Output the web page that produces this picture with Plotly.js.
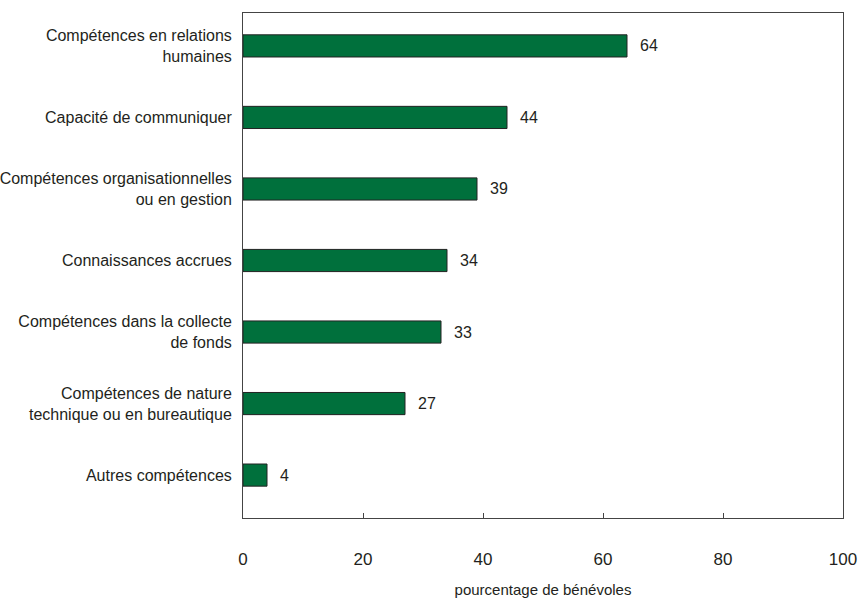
<!DOCTYPE html>
<html>
<head>
<meta charset="utf-8">
<script src="https://cdn.plot.ly/plotly-3.0.1.min.js"></script>
<style>
html,body{margin:0;padding:0;background:#fff;}
#chart{width:858px;height:598px;}
</style>
</head>
<body>
<div id="chart"></div>
<script>
const categories = [
  "Compétences en relations<br>humaines",
  "Capacité de communiquer",
  "Compétences organisationnelles<br>ou en gestion",
  "Connaissances accrues",
  "Compétences dans la collecte<br>de fonds",
  "Compétences de nature<br>technique ou en bureautique",
  "Autres compétences"
];
const values = [64, 44, 39, 34, 33, 27, 4];
const xTicks = [0, 20, 40, 60, 80, 100];
const xTitle = "pourcentage de bénévoles";

const FONT = "'Liberation Sans', Arial, sans-serif";

const trace = {
  type: 'bar',
  orientation: 'h',
  x: values,
  y: categories,
  width: 0.31,
  marker: {color: '#00703c', line: {color: '#222', width: 1}},
  hoverinfo: 'none'
};

const annotations = values.map((v, i) => ({
  x: v, y: categories[i], xref: 'x', yref: 'y',
  text: String(v), showarrow: false, xanchor: 'left', xshift: 11,
  font: {family: FONT, size: 16, color: '#231f20'}
}));

const layout = {
  width: 858, height: 598,
  margin: {l: 243, r: 15, t: 13, b: 80},
  paper_bgcolor: '#fff', plot_bgcolor: '#fff',
  showlegend: false,
  font: {family: FONT, size: 16, color: '#231f20'},
  xaxis: {
    range: [0, 100], tickvals: xTicks, ticktext: xTicks.map(String),
    showgrid: false, zeroline: false,
    showline: true, linecolor: '#444', linewidth: 1, mirror: true,
    ticks: 'inside', ticklen: 5, tickcolor: '#444',
    tickfont: {family: FONT, size: 17, color: '#231f20'},
    ticklabelstandoff: 26,
    title: {text: xTitle, font: {family: FONT, size: 15, color: '#231f20'}, standoff: 19}
  },
  yaxis: {
    type: 'category',
    range: [6.6, -0.46], showgrid: false, zeroline: false,
    showline: true, linecolor: '#444', linewidth: 1, mirror: true,
    ticks: '', ticklabelstandoff: 7,
    tickfont: {family: FONT, size: 16, color: '#231f20'}
  },
  annotations: annotations
};

Plotly.newPlot('chart', [trace], layout, {staticPlot: true});
</script>
</body>
</html>
